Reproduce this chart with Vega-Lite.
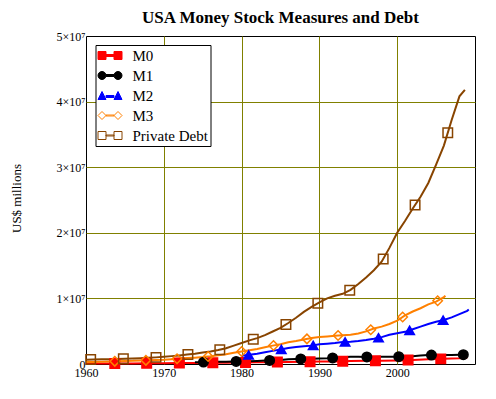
{
  "$schema": "https://vega.github.io/schema/vega-lite/v6.json",
  "width": 389,
  "height": 328,
  "autosize": "none",
  "padding": {"left": 86, "top": 36, "right": 21, "bottom": 35},
  "background": "white",
  "title": {"text": "USA Money Stock Measures and Debt", "font": "Liberation Serif", "fontSize": 17, "fontWeight": "bold", "color": "black", "anchor": "middle", "offset": 12, "baseline": "alphabetic", "dy": 22},
  "config": {"view": {"stroke": "black", "strokeWidth": 1}},
  "datasets": {
    "lines": [
      {"series": "M0", "year": 1960, "value": 60000}, {"series": "M0", "year": 1962, "value": 70000}, {"series": "M0", "year": 1964, "value": 80000}, {"series": "M0", "year": 1966, "value": 90000}, {"series": "M0", "year": 1968, "value": 100000}, {"series": "M0", "year": 1970, "value": 120000}, {"series": "M0", "year": 1972, "value": 140000}, {"series": "M0", "year": 1974, "value": 160000}, {"series": "M0", "year": 1976, "value": 180000}, {"series": "M0", "year": 1978, "value": 200000}, {"series": "M0", "year": 1980, "value": 220000}, {"series": "M0", "year": 1982, "value": 250000}, {"series": "M0", "year": 1984, "value": 280000}, {"series": "M0", "year": 1986, "value": 310000}, {"series": "M0", "year": 1988, "value": 340000}, {"series": "M0", "year": 1990, "value": 370000}, {"series": "M0", "year": 1992, "value": 400000}, {"series": "M0", "year": 1994, "value": 440000}, {"series": "M0", "year": 1996, "value": 480000}, {"series": "M0", "year": 1998, "value": 510000}, {"series": "M0", "year": 2000, "value": 550000}, {"series": "M0", "year": 2002, "value": 620000}, {"series": "M0", "year": 2004, "value": 710000}, {"series": "M0", "year": 2006, "value": 800000}, {"series": "M0", "year": 2008, "value": 880000}, {"series": "M0", "year": 2009, "value": 950000},
      {"series": "M1", "year": 1974, "value": 270000}, {"series": "M1", "year": 1975, "value": 285000}, {"series": "M1", "year": 1976, "value": 300000}, {"series": "M1", "year": 1977, "value": 330000}, {"series": "M1", "year": 1978, "value": 360000}, {"series": "M1", "year": 1979, "value": 385000}, {"series": "M1", "year": 1980, "value": 410000}, {"series": "M1", "year": 1981, "value": 430000}, {"series": "M1", "year": 1982, "value": 470000}, {"series": "M1", "year": 1983, "value": 520000}, {"series": "M1", "year": 1984, "value": 550000}, {"series": "M1", "year": 1985, "value": 620000}, {"series": "M1", "year": 1986, "value": 720000}, {"series": "M1", "year": 1987, "value": 750000}, {"series": "M1", "year": 1988, "value": 790000}, {"series": "M1", "year": 1989, "value": 790000}, {"series": "M1", "year": 1990, "value": 820000}, {"series": "M1", "year": 1991, "value": 870000}, {"series": "M1", "year": 1992, "value": 950000}, {"series": "M1", "year": 1993, "value": 1030000}, {"series": "M1", "year": 1994, "value": 1100000}, {"series": "M1", "year": 1995, "value": 1110000}, {"series": "M1", "year": 1996, "value": 1080000}, {"series": "M1", "year": 1997, "value": 1070000}, {"series": "M1", "year": 1998, "value": 1090000}, {"series": "M1", "year": 1999, "value": 1110000}, {"series": "M1", "year": 2000, "value": 1090000}, {"series": "M1", "year": 2001, "value": 1180000}, {"series": "M1", "year": 2002, "value": 1200000}, {"series": "M1", "year": 2003, "value": 1280000}, {"series": "M1", "year": 2004, "value": 1360000}, {"series": "M1", "year": 2005, "value": 1370000}, {"series": "M1", "year": 2006, "value": 1370000}, {"series": "M1", "year": 2007, "value": 1370000}, {"series": "M1", "year": 2008, "value": 1400000}, {"series": "M1", "year": 2009, "value": 1450000},
      {"series": "M2", "year": 1980, "value": 1250000}, {"series": "M2", "year": 1981, "value": 1400000}, {"series": "M2", "year": 1982, "value": 1550000}, {"series": "M2", "year": 1983, "value": 1800000}, {"series": "M2", "year": 1984, "value": 2000000}, {"series": "M2", "year": 1985, "value": 2200000}, {"series": "M2", "year": 1986, "value": 2450000}, {"series": "M2", "year": 1987, "value": 2600000}, {"series": "M2", "year": 1988, "value": 2700000}, {"series": "M2", "year": 1989, "value": 2800000}, {"series": "M2", "year": 1990, "value": 3000000}, {"series": "M2", "year": 1991, "value": 3100000}, {"series": "M2", "year": 1992, "value": 3200000}, {"series": "M2", "year": 1993, "value": 3350000}, {"series": "M2", "year": 1994, "value": 3400000}, {"series": "M2", "year": 1995, "value": 3500000}, {"series": "M2", "year": 1996, "value": 3650000}, {"series": "M2", "year": 1997, "value": 3850000}, {"series": "M2", "year": 1998, "value": 4100000}, {"series": "M2", "year": 1999, "value": 4450000}, {"series": "M2", "year": 2000, "value": 4700000}, {"series": "M2", "year": 2001, "value": 4900000}, {"series": "M2", "year": 2002, "value": 5300000}, {"series": "M2", "year": 2003, "value": 5700000}, {"series": "M2", "year": 2004, "value": 6100000}, {"series": "M2", "year": 2005, "value": 6450000}, {"series": "M2", "year": 2006, "value": 6700000}, {"series": "M2", "year": 2007, "value": 7100000}, {"series": "M2", "year": 2008, "value": 7600000}, {"series": "M2", "year": 2009, "value": 8100000}, {"series": "M2", "year": 2009.2, "value": 8300000},
      {"series": "M3", "year": 1960, "value": 300000}, {"series": "M3", "year": 1961, "value": 320000}, {"series": "M3", "year": 1962, "value": 350000}, {"series": "M3", "year": 1963, "value": 380000}, {"series": "M3", "year": 1964, "value": 420000}, {"series": "M3", "year": 1965, "value": 460000}, {"series": "M3", "year": 1966, "value": 480000}, {"series": "M3", "year": 1967, "value": 530000}, {"series": "M3", "year": 1968, "value": 570000}, {"series": "M3", "year": 1969, "value": 600000}, {"series": "M3", "year": 1970, "value": 640000}, {"series": "M3", "year": 1971, "value": 720000}, {"series": "M3", "year": 1972, "value": 820000}, {"series": "M3", "year": 1973, "value": 900000}, {"series": "M3", "year": 1974, "value": 970000}, {"series": "M3", "year": 1975, "value": 1060000}, {"series": "M3", "year": 1976, "value": 1180000}, {"series": "M3", "year": 1977, "value": 1330000}, {"series": "M3", "year": 1978, "value": 1500000}, {"series": "M3", "year": 1979, "value": 1700000}, {"series": "M3", "year": 1980, "value": 1900000}, {"series": "M3", "year": 1981, "value": 2100000}, {"series": "M3", "year": 1982, "value": 2300000}, {"series": "M3", "year": 1983, "value": 2550000}, {"series": "M3", "year": 1984, "value": 2800000}, {"series": "M3", "year": 1985, "value": 3000000}, {"series": "M3", "year": 1986, "value": 3300000}, {"series": "M3", "year": 1987, "value": 3500000}, {"series": "M3", "year": 1988, "value": 3750000}, {"series": "M3", "year": 1989, "value": 3950000}, {"series": "M3", "year": 1990, "value": 4100000}, {"series": "M3", "year": 1991, "value": 4200000}, {"series": "M3", "year": 1992, "value": 4300000}, {"series": "M3", "year": 1993, "value": 4400000}, {"series": "M3", "year": 1994, "value": 4450000}, {"series": "M3", "year": 1995, "value": 4650000}, {"series": "M3", "year": 1996, "value": 4970000}, {"series": "M3", "year": 1997, "value": 5400000}, {"series": "M3", "year": 1998, "value": 5700000}, {"series": "M3", "year": 1999, "value": 6100000}, {"series": "M3", "year": 2000, "value": 6600000}, {"series": "M3", "year": 2001, "value": 7400000}, {"series": "M3", "year": 2002, "value": 8000000}, {"series": "M3", "year": 2003, "value": 8500000}, {"series": "M3", "year": 2004, "value": 9100000}, {"series": "M3", "year": 2005, "value": 9500000}, {"series": "M3", "year": 2006, "value": 10200000}, {"series": "M3", "year": 2006.2, "value": 10400000},
      {"series": "Private Debt", "year": 1960, "value": 650000}, {"series": "Private Debt", "year": 1961, "value": 680000}, {"series": "Private Debt", "year": 1962, "value": 710000}, {"series": "Private Debt", "year": 1963, "value": 730000}, {"series": "Private Debt", "year": 1964, "value": 760000}, {"series": "Private Debt", "year": 1965, "value": 790000}, {"series": "Private Debt", "year": 1966, "value": 830000}, {"series": "Private Debt", "year": 1967, "value": 880000}, {"series": "Private Debt", "year": 1968, "value": 940000}, {"series": "Private Debt", "year": 1969, "value": 1010000}, {"series": "Private Debt", "year": 1970, "value": 1100000}, {"series": "Private Debt", "year": 1971, "value": 1200000}, {"series": "Private Debt", "year": 1972, "value": 1310000}, {"series": "Private Debt", "year": 1973, "value": 1440000}, {"series": "Private Debt", "year": 1974, "value": 1580000}, {"series": "Private Debt", "year": 1975, "value": 1750000}, {"series": "Private Debt", "year": 1976, "value": 1920000}, {"series": "Private Debt", "year": 1977, "value": 2120000}, {"series": "Private Debt", "year": 1978, "value": 2400000}, {"series": "Private Debt", "year": 1979, "value": 2800000}, {"series": "Private Debt", "year": 1980, "value": 3200000}, {"series": "Private Debt", "year": 1981, "value": 3600000}, {"series": "Private Debt", "year": 1982, "value": 3950000}, {"series": "Private Debt", "year": 1983, "value": 4400000}, {"series": "Private Debt", "year": 1984, "value": 4950000}, {"series": "Private Debt", "year": 1985, "value": 5500000}, {"series": "Private Debt", "year": 1986, "value": 6250000}, {"series": "Private Debt", "year": 1987, "value": 7050000}, {"series": "Private Debt", "year": 1988, "value": 7950000}, {"series": "Private Debt", "year": 1989, "value": 8700000}, {"series": "Private Debt", "year": 1990, "value": 9400000}, {"series": "Private Debt", "year": 1991, "value": 10000000}, {"series": "Private Debt", "year": 1992, "value": 10400000}, {"series": "Private Debt", "year": 1993, "value": 10700000}, {"series": "Private Debt", "year": 1994, "value": 11300000}, {"series": "Private Debt", "year": 1995, "value": 12200000}, {"series": "Private Debt", "year": 1996, "value": 13200000}, {"series": "Private Debt", "year": 1997, "value": 14300000}, {"series": "Private Debt", "year": 1998, "value": 15600000}, {"series": "Private Debt", "year": 1999, "value": 17700000}, {"series": "Private Debt", "year": 2000, "value": 20000000}, {"series": "Private Debt", "year": 2001, "value": 21800000}, {"series": "Private Debt", "year": 2002, "value": 23700000}, {"series": "Private Debt", "year": 2003, "value": 25500000}, {"series": "Private Debt", "year": 2004, "value": 27600000}, {"series": "Private Debt", "year": 2005, "value": 30400000}, {"series": "Private Debt", "year": 2006, "value": 33300000}, {"series": "Private Debt", "year": 2007, "value": 37200000}, {"series": "Private Debt", "year": 2008, "value": 40800000}, {"series": "Private Debt", "year": 2008.7, "value": 41800000}
    ],
    "markers": [
      {"name": "M0", "year": 1963.7, "value": 78500}, {"name": "M0", "year": 1967.8, "value": 99000}, {"name": "M0", "year": 1972, "value": 140000}, {"name": "M0", "year": 1976.3, "value": 183000}, {"name": "M0", "year": 1980.5, "value": 227500}, {"name": "M0", "year": 1984.6, "value": 289000}, {"name": "M0", "year": 1988.8, "value": 352000}, {"name": "M0", "year": 1993, "value": 420000}, {"name": "M0", "year": 1997.2, "value": 498000}, {"name": "M0", "year": 2001.4, "value": 599000}, {"name": "M0", "year": 2005.6, "value": 782000},
      {"name": "M1", "year": 1975.1, "value": 286500}, {"name": "M1", "year": 1979.3, "value": 392500}, {"name": "M1", "year": 1983.6, "value": 538000}, {"name": "M1", "year": 1987.6, "value": 774000}, {"name": "M1", "year": 1991.7, "value": 926000}, {"name": "M1", "year": 1996.1, "value": 1079000}, {"name": "M1", "year": 2000.2, "value": 1108000}, {"name": "M1", "year": 2004.4, "value": 1364000}, {"name": "M1", "year": 2008.5, "value": 1425000},
      {"name": "M2", "year": 1980.9, "value": 1385000}, {"name": "M2", "year": 1985.1, "value": 2225000}, {"name": "M2", "year": 1989.2, "value": 2840000}, {"name": "M2", "year": 1993.3, "value": 3365000}, {"name": "M2", "year": 1997.6, "value": 4000000}, {"name": "M2", "year": 2001.6, "value": 5140000}, {"name": "M2", "year": 2005.9, "value": 6675000},
      {"name": "M3", "year": 1963.7, "value": 408000}, {"name": "M3", "year": 1967.7, "value": 558000}, {"name": "M3", "year": 1971.7, "value": 790000}, {"name": "M3", "year": 1975.7, "value": 1144000}, {"name": "M3", "year": 1980, "value": 1900000}, {"name": "M3", "year": 1984.1, "value": 2820000}, {"name": "M3", "year": 1988.4, "value": 3830000}, {"name": "M3", "year": 1992.4, "value": 4340000}, {"name": "M3", "year": 1996.6, "value": 5230000}, {"name": "M3", "year": 2000.7, "value": 7160000}, {"name": "M3", "year": 2005.2, "value": 9640000},
      {"name": "Private Debt", "year": 1960.6, "value": 668000}, {"name": "Private Debt", "year": 1964.8, "value": 784000}, {"name": "Private Debt", "year": 1969, "value": 1010000}, {"name": "Private Debt", "year": 1973.1, "value": 1454000}, {"name": "Private Debt", "year": 1977.2, "value": 2176000}, {"name": "Private Debt", "year": 1981.5, "value": 3775000}, {"name": "Private Debt", "year": 1985.7, "value": 6025000}, {"name": "Private Debt", "year": 1989.8, "value": 9260000}, {"name": "Private Debt", "year": 1993.9, "value": 11240000}, {"name": "Private Debt", "year": 1998.2, "value": 16020000}, {"name": "Private Debt", "year": 2002.3, "value": 24240000}, {"name": "Private Debt", "year": 2006.5, "value": 35250000}
    ]
  },
  "layer": [
    {
      "data": {"name": "lines"},
      "mark": {"type": "line", "strokeWidth": 2},
      "encoding": {
        "x": {"field": "year", "type": "quantitative",
          "scale": {"domain": [1960, 2010], "nice": false, "zero": false},
          "axis": {"title": null, "values": [1960, 1970, 1980, 1990, 2000], "format": "d", "labelFont": "Liberation Serif", "labelFontSize": 12, "labelColor": "black", "ticks": false, "domain": false, "labelPadding": 3, "labelFlush": false, "labelOverlap": false, "labelDx": 2,
            "gridColor": {"condition": {"test": "datum.value === 1960", "value": "transparent"}, "value": "#808000"}, "gridOpacity": 1, "gridWidth": 1}},
        "y": {"field": "value", "type": "quantitative",
          "scale": {"domain": [0, 50000000], "nice": false},
          "axis": {"title": "US$ millions", "values": [0, 10000000, 20000000, 30000000, 40000000, 50000000],
            "labelExpr": "datum.value === 0 ? '0' : (datum.value / 10000000) + '×10⁷'",
            "labelFont": "Liberation Serif", "labelFontSize": 12, "labelColor": "black", "ticks": false, "domain": false, "labelPadding": 1, "labelOverlap": false, "labelFlush": false,
            "gridColor": {"condition": {"test": "datum.value === 0 || datum.value === 50000000", "value": "transparent"}, "value": "#808000"}, "gridOpacity": 1, "gridWidth": 1,
            "titleFont": "Liberation Serif", "titleFontSize": 13, "titleFontWeight": "normal", "titleColor": "black",
            "titleX": -70, "titleY": 162, "titleAngle": 270, "titleAlign": "center", "titleBaseline": "middle"}},
        "stroke": {"field": "series", "type": "nominal",
          "scale": {"domain": ["M0", "M1", "M2", "M3", "Private Debt"], "range": ["#FF0000", "#000000", "#0000FF", "#FF8000", "#884400"]},
          "legend": {"orient": "none", "legendX": 9.5, "legendY": 9, "title": null, "fillColor": "white", "strokeColor": "black", "padding": 2, "rowPadding": 3, "symbolSize": 256, "symbolStrokeWidth": 1, "symbolOffset": 4, "labelOffset": 14, "labelFont": "Liberation Serif", "labelFontSize": 15, "labelColor": "black",
            "encode": {"symbols": {"update": {
              "shape": {"signal": "datum.value === 'M0' ? 'M-1.5,-0.5H-0.5V-0.125H0.5V-0.5H1.5V0.5H0.5V0.125H-0.5V0.5H-1.5Z' : datum.value === 'M1' ? 'M-1.5,0A0.5,0.5 0 1,1 -0.5,0A0.5,0.5 0 1,1 -1.5,0Z M0.5,0A0.5,0.5 0 1,1 1.5,0A0.5,0.5 0 1,1 0.5,0Z M-0.5,-0.125H0.5V0.125H-0.5Z' : datum.value === 'M2' ? 'M-1.5,0.5L-1,-0.5L-0.5,0.5Z M0.5,0.5L1,-0.5L1.5,0.5Z M-0.5,0H0.5V0.25H-0.5Z' : datum.value === 'M3' ? 'M-1.5,0L-1,-0.5L-0.5,0L-1,0.5Z M0.5,0L1,-0.5L1.5,0L1,0.5Z M-0.5,-0.06H0.5V0.06H-0.5Z' : 'M-1.5,-0.5H-0.5V0.5H-1.5Z M0.5,-0.5H1.5V0.5H0.5Z M-0.5,-0.06H0.5V0.06H-0.5Z'"},
              "fill": {"signal": "datum.value === 'M0' ? '#FF0000' : datum.value === 'M1' ? '#000000' : datum.value === 'M2' ? '#0000FF' : 'transparent'"},
              "strokeWidth": {"value": 1},
              "opacity": {"value": 1}
            }}}}}
      }
    },
    {
      "data": {"name": "markers"},
      "mark": {"type": "point", "filled": true, "opacity": 1, "size": 90, "strokeWidth": 1.5},
      "encoding": {
        "x": {"field": "year", "type": "quantitative"},
        "y": {"field": "value", "type": "quantitative"},
        "stroke": {"field": "name", "type": "nominal", "legend": null},
        "fill": {"field": "name", "type": "nominal", "legend": null, "scale": {"range": ["#FF0000", "#000000", "#0000FF", "transparent", "transparent"]}},
        "shape": {"field": "name", "type": "nominal", "legend": null, "scale": {"range": ["square", "circle", "triangle-up", "diamond", "square"]}}
      }
    }
  ]
}
